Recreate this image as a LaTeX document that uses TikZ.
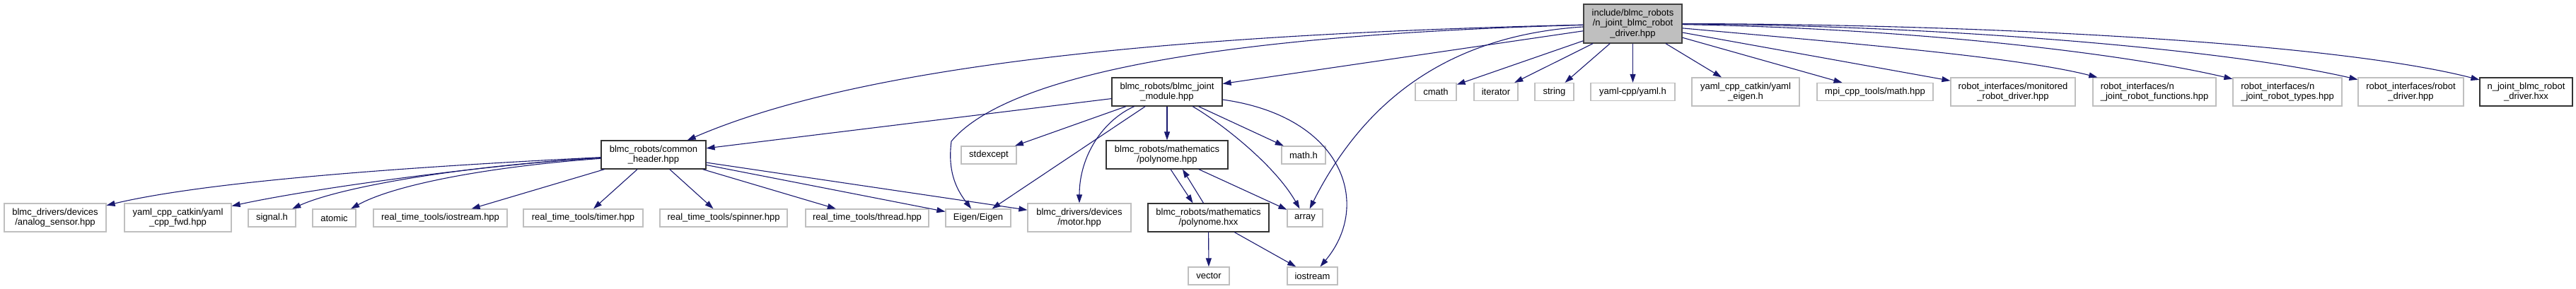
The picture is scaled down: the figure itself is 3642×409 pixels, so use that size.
\documentclass[tikz,border=0pt]{standalone}
\usepackage{fontspec}
\setmainfont{Liberation Sans}
\usetikzlibrary{arrows.meta}
\definecolor{edgeblue}{HTML}{191970}
\definecolor{extgray}{HTML}{BFBFBF}
\tikzset{
  file/.style={rectangle, inner sep=0pt, fill=white, line width=1.2pt,
               font=\fontsize{13}{14.7}\selectfont, align=center},
  ext/.style={file, draw=extgray, minimum height=25pt},
  ext2/.style={ext, minimum height=40pt},
  doc/.style={file, draw=black!80, minimum height=40pt},
  rootfile/.style={file, draw=black!75, fill=extgray, minimum height=55pt},
  dep/.style={-{Triangle[length=12pt, width=8pt]}, line width=1.1pt, edgeblue}
}
\begin{document}
\begin{tikzpicture}[x=1pt, y=-1pt]
  \useasboundingbox (0,0) rectangle (3642,409);
  % rank 0
  \node[rootfile, minimum width=139pt] (root) at (2308.5,33.5)
       {include/blmc\_robots\\/n\_joint\_blmc\_robot\\\_driver.hpp};
  % rank 1
  \node[doc, minimum width=156pt] (jm) at (1650,130) {blmc\_robots/blmc\_joint\\\_module.hpp};
  \node[ext, minimum width=58pt] (cmath) at (2030,130) {cmath};
  \node[ext, minimum width=62pt] (iterator) at (2115,130) {iterator};
  \node[ext, minimum width=55pt] (string) at (2197.5,130) {string};
  \node[ext, minimum width=119pt] (yamlh) at (2308.5,130) {yaml-cpp/yaml.h};
  \node[ext2, minimum width=152pt] (yeigen) at (2468,130) {yaml\_cpp\_catkin/yaml\\\_eigen.h};
  \node[ext, minimum width=164pt] (mpimath) at (2651,130) {mpi\_cpp\_tools/math.hpp};
  \node[ext2, minimum width=176pt] (monitored) at (2846,130)
       {robot\_interfaces/monitored\\\_robot\_driver.hpp};
  \node[ext2, minimum width=174pt, align=left] (funcs) at (3046,130)
       {robot\_interfaces/n\\\_joint\_robot\_functions.hpp};
  \node[ext2, minimum width=154pt, align=left] (types) at (3234,130)
       {robot\_interfaces/n\\\_joint\_robot\_types.hpp};
  \node[ext2, minimum width=149pt] (rdriver) at (3408.5,130) {robot\_interfaces/robot\\\_driver.hpp};
  \node[doc, minimum width=131pt] (hxx) at (3571.5,130) {n\_joint\_blmc\_robot\\\_driver.hxx};
  % rank 2
  \node[doc, minimum width=148pt] (common) at (924,219) {blmc\_robots/common\\\_header.hpp};
  \node[ext, minimum width=78pt] (stdexcept) at (1398,219.5) {stdexcept};
  \node[doc, minimum width=172pt] (polyhpp) at (1650,219) {blmc\_robots/mathematics\\/polynome.hpp};
  \node[ext, minimum width=62pt] (mathh) at (1843,219.5) {math.h};
  % rank 3
  \node[ext2, minimum width=144pt] (analog) at (78,308) {blmc\_drivers/devices\\/analog\_sensor.hpp};
  \node[ext2, minimum width=151pt] (yfwd) at (251.5,308) {yaml\_cpp\_catkin/yaml\\\_cpp\_fwd.hpp};
  \node[ext, minimum width=67pt] (signal) at (384.5,308.5) {signal.h};
  \node[ext, minimum width=61pt] (atomic) at (472.5,308.5) {atomic};
  \node[ext, minimum width=189pt] (rtios) at (622.5,308.5) {real\_time\_tools/iostream.hpp};
  \node[ext, minimum width=169pt] (timer) at (824.5,308.5) {real\_time\_tools/timer.hpp};
  \node[ext, minimum width=180pt] (spinner) at (1023,308.5) {real\_time\_tools/spinner.hpp};
  \node[ext, minimum width=174pt] (thread) at (1226,308.5) {real\_time\_tools/thread.hpp};
  \node[ext, minimum width=92pt] (eigen) at (1383,308.5) {Eigen/Eigen};
  \node[ext2, minimum width=146pt] (motor) at (1526,308) {blmc\_drivers/devices\\/motor.hpp};
  \node[doc, minimum width=171pt] (polyhxx) at (1708.5,308) {blmc\_robots/mathematics\\/polynome.hxx};
  \node[ext, minimum width=50pt] (array) at (1845,308.5) {array};
  % rank 4
  \node[ext, minimum width=58pt] (vector) at (1709,390.5) {vector};
  \node[ext, minimum width=71pt] (iostream) at (1855.5,390.5) {iostream};

  % straight includes
  \foreach \a/\b in {root/jm, root/cmath, root/iterator, root/string, root/yamlh,
                     root/yeigen, root/mpimath, root/monitored,
                     jm/common, jm/stdexcept, jm/eigen, jm/polyhpp, jm/mathh,
                     common/rtios, common/timer, common/spinner, common/thread,
                     common/eigen, common/motor,
                     polyhpp/array, polyhxx/vector, polyhxx/iostream}
    \draw[dep] (\a) -- (\b);
  % curved includes
  \draw[dep] (root) .. controls (1600,50) and (1200,100) .. (common);
  \draw[dep] (root) .. controls (1700,50) and (1420,110) .. (1345,200)
                    .. controls (1340,240) and (1350,265) .. (eigen);
  \draw[dep] (root) .. controls (2050,50) and (1930,140) .. (array);
  \draw[dep] (root) .. controls (2600,60) and (2850,80) .. (funcs);
  \draw[dep] (root) .. controls (2700,40) and (3000,75) .. (types);
  \draw[dep] (root) .. controls (2750,36) and (3150,70) .. (rdriver);
  \draw[dep] (root) .. controls (2800,34) and (3300,60) .. (hxx);
  \draw[dep] (jm) .. controls (1560,170) and (1526,220) .. (motor);
  \draw[dep] (jm) .. controls (1720,170) and (1800,230) .. (array);
  \draw[dep] (jm) .. controls (1900,165) and (1940,290) .. (iostream);
  \draw[dep] (common) .. controls (600,235) and (300,255) .. (analog);
  \draw[dep] (common) .. controls (700,232) and (450,265) .. (yfwd);
  \draw[dep] (common) .. controls (650,235) and (480,265) .. (signal);
  \draw[dep] (common) .. controls (700,235) and (560,260) .. (atomic);
  % polynome cycle
  \draw[dep] ([xshift=5pt]polyhpp.south) -- ([xshift=-22pt]polyhxx.north);
  \draw[dep] ([xshift=-7pt]polyhxx.north) -- ([xshift=22pt]polyhpp.south);
\end{tikzpicture}
\end{document}
